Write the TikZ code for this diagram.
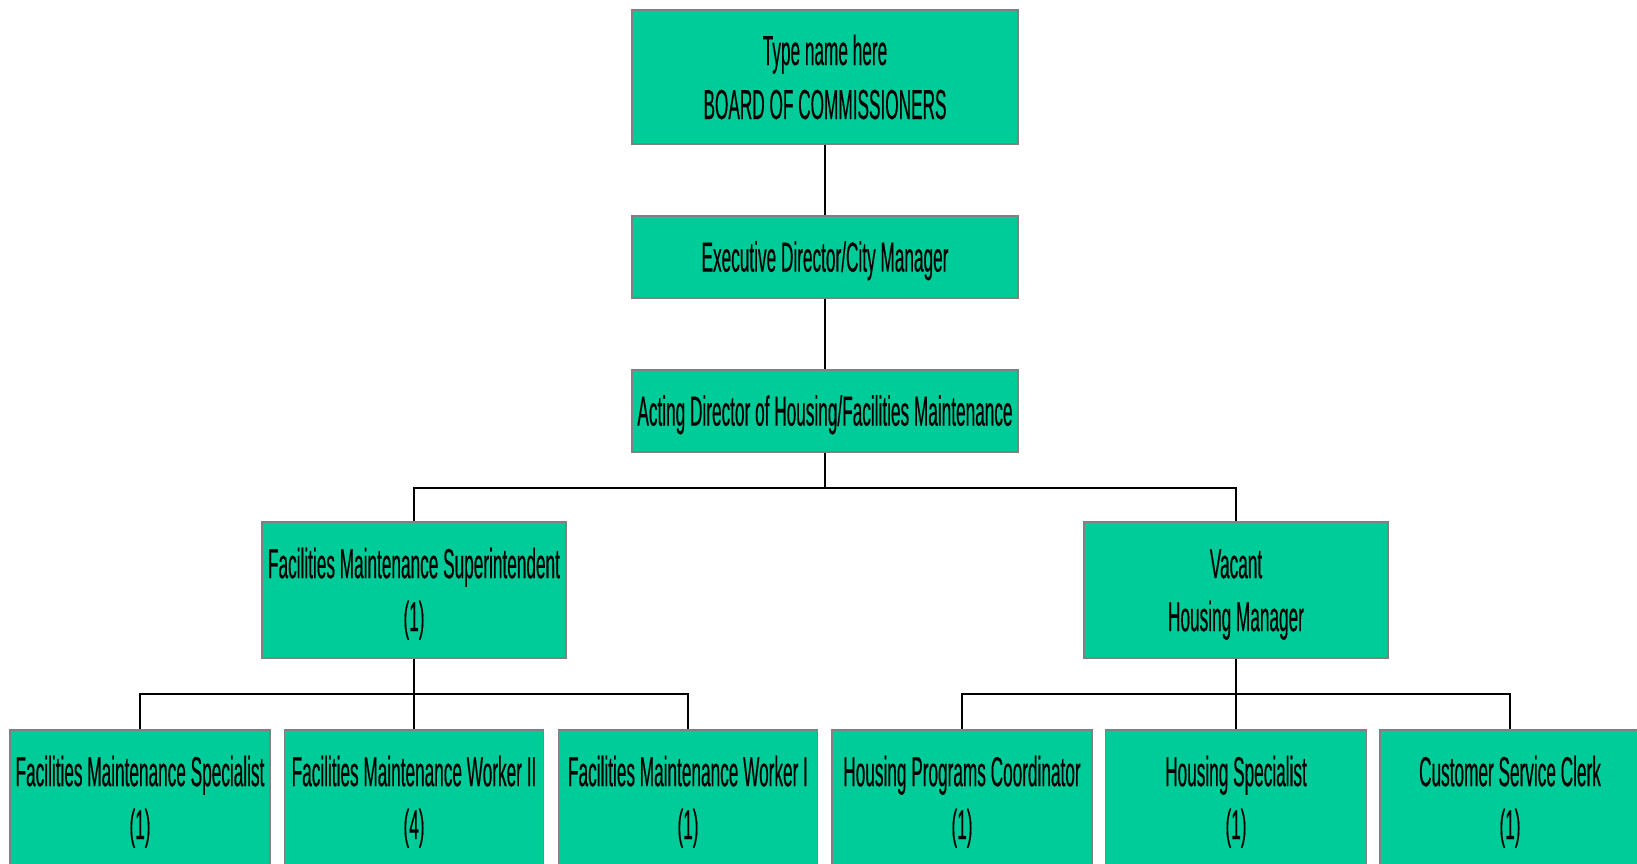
\documentclass[tikz,border=0pt]{standalone}
\usepackage{fontspec}
\setmainfont[FakeStretch=0.41,FakeBold=0.3]{Liberation Sans}
\definecolor{boxgreen}{HTML}{00CC99}
\definecolor{boxedge}{HTML}{808080}
\newcommand\toppad{\rule{0pt}{38pt}}
\tikzset{
  orgbox/.style={draw=boxedge, line width=1.5pt, fill=boxgreen, inner sep=0pt, align=center,
    font=\fontsize{42}{53}\selectfont, text=black},
  link/.style={draw=black, line width=2.2pt}
}
\begin{document}
\begin{tikzpicture}[x=1pt,y=-1pt]
\clip (0,0) rectangle (1637,863);
\fill[white] (0,0) rectangle (1637,863);
% top chain
\node[orgbox, minimum width=386pt, minimum height=134pt, font=\fontsize{42}{54}\selectfont] (board) at (825,77) {Type name here\\BOARD OF COMMISSIONERS};
\node[orgbox, minimum width=386pt, minimum height=82pt] (exec) at (825,257) {\toppad Executive Director/City Manager};
\node[orgbox, minimum width=386pt, minimum height=82pt] (acting) at (825,411) {\toppad Acting Director of Housing/Facilities Maintenance};
% middle
\node[orgbox, minimum width=304pt, minimum height=136pt] (fms) at (414,590) {\toppad Facilities Maintenance Superintendent\\(1)};
\node[orgbox, minimum width=304pt, minimum height=136pt] (vac) at (1236,590) {\toppad Vacant\\Housing Manager};
% bottom
\node[orgbox, minimum width=260pt, minimum height=136pt] (b1) at (140,798) {\toppad Facilities Maintenance Specialist\\(1)};
\node[orgbox, minimum width=259pt, minimum height=136pt] (b2) at (414,798) {\toppad Facilities Maintenance Worker II\\(4)};
\node[orgbox, minimum width=259pt, minimum height=136pt] (b3) at (688,798) {\toppad Facilities Maintenance Worker I\\(1)};
\node[orgbox, minimum width=260pt, minimum height=136pt] (b4) at (962,798) {\toppad Housing Programs Coordinator\\(1)};
\node[orgbox, minimum width=261pt, minimum height=136pt] (b5) at (1236,798) {\toppad Housing Specialist\\(1)};
\node[orgbox, minimum width=260pt, minimum height=136pt] (b6) at (1510,798) {\toppad Customer Service Clerk\\(1)};
% branch points
\coordinate (j1) at (825,488);
\coordinate (j2) at (414,694);
\coordinate (j3) at (1236,694);
% connectors
\draw[link] (board.south) -- (exec.north);
\draw[link] (exec.south) -- (acting.north);
\draw[link] (acting.south) -- (j1);
\draw[link] (j1) -| (fms.north);
\draw[link] (j1) -| (vac.north);
\draw[link] (fms.south) -- (j2);
\draw[link] (j2) -| (b1.north);
\draw[link] (j2) -- (b2.north);
\draw[link] (j2) -| (b3.north);
\draw[link] (vac.south) -- (j3);
\draw[link] (j3) -| (b4.north);
\draw[link] (j3) -- (b5.north);
\draw[link] (j3) -| (b6.north);
\end{tikzpicture}
\end{document}
